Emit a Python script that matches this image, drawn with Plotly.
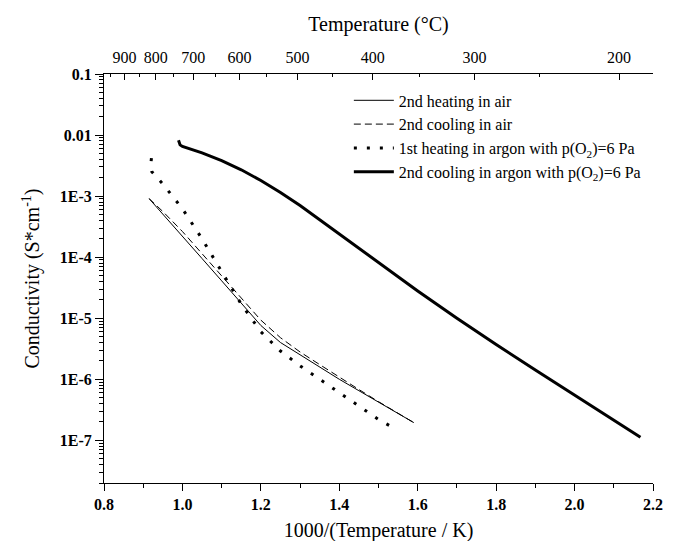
import numpy as np
import plotly.graph_objects as go

# ---------------- data ----------------
# 1000/T (K^-1) and conductivity (S/cm)
x_heat_air = [0.915, 0.95, 1.0, 1.05, 1.1, 1.15, 1.2, 1.25, 1.3, 1.35, 1.4, 1.45, 1.5, 1.55, 1.59]
y_heat_air = [9.1e-4, 5.1e-4, 2.24e-4, 9.5e-5, 4.1e-5, 1.74e-5, 7.6e-6, 4.0e-6, 2.5e-6, 1.58e-6,
              1.0e-6, 6.5e-7, 4.2e-7, 2.8e-7, 1.95e-7]

x_cool_air = [0.915, 0.95, 1.0, 1.05, 1.1, 1.15, 1.2, 1.25, 1.3, 1.35, 1.4, 1.45, 1.5, 1.55, 1.59]
y_cool_air = [9.1e-4, 5.6e-4, 2.63e-4, 1.15e-4, 5.0e-5, 2.14e-5, 9.3e-6, 4.8e-6, 2.8e-6, 1.74e-6,
              1.07e-6, 6.8e-7, 4.3e-7, 2.75e-7, 1.95e-7]

x_heat_ar = [0.921, 0.919, 0.922, 0.935, 0.95, 1.0, 1.05, 1.1, 1.15, 1.2, 1.25, 1.3, 1.35, 1.4,
             1.45, 1.5, 1.546]
y_heat_ar = [4.2e-3, 3.2e-3, 2.5e-3, 2.04e-3, 1.58e-3, 6.2e-4, 2.0e-4, 5.8e-5, 1.7e-5, 6.0e-6,
             2.9e-6, 1.66e-6, 1.0e-6, 6.0e-7, 3.6e-7, 2.2e-7, 1.5e-7]

x_cool_ar = [0.990, 0.994, 1.0, 1.05, 1.1, 1.15, 1.2, 1.25, 1.3, 1.35, 1.4, 1.5, 1.6, 1.7,
             1.8, 1.9, 2.0, 2.1, 2.168]
y_cool_ar = [8.2e-3, 6.9e-3, 6.5e-3, 5.1e-3, 3.8e-3, 2.7e-3, 1.8e-3, 1.15e-3, 7.0e-4, 4.1e-4,
             2.35e-4, 8.0e-5, 2.8e-5, 1.0e-5, 3.7e-6, 1.42e-6, 5.5e-7, 2.15e-7, 1.12e-7]

names = ["2nd heating in air", "2nd cooling in air",
         "1st heating in argon with p(O<sub>2</sub>)=6 Pa",
         "2nd cooling in argon with p(O<sub>2</sub>)=6 Pa"]

y_tick_vals = [1e-1, 1e-2, 1e-3, 1e-4, 1e-5, 1e-6, 1e-7]
y_tick_text = ["0.1", "0.01", "1E-3", "1E-4", "1E-5", "1E-6", "1E-7"]

temp_major_c = [900, 800, 700, 600, 500, 400, 300, 200]
temp_minor_c = [950, 850, 750, 650, 550, 450, 350, 250]

# ---------------- figure ----------------
FONT = "Liberation Serif"
fig = go.Figure()

fig.add_trace(go.Scatter(x=x_heat_air, y=y_heat_air, mode="lines", name=names[0],
                         line=dict(color="black", width=1)))
fig.add_trace(go.Scatter(x=x_cool_air, y=y_cool_air, mode="lines", name=names[1],
                         line=dict(color="black", width=1, dash="7px,4px")))
fig.add_trace(go.Scatter(x=x_heat_ar, y=y_heat_ar, mode="lines", name=names[2],
                         line=dict(color="black", width=3, dash="3px,10px")))
fig.add_trace(go.Scatter(x=x_cool_ar, y=y_cool_ar, mode="lines", name=names[3],
                         line=dict(color="black", width=3)))
# invisible trace to activate top axis
fig.add_trace(go.Scatter(x=[0.8, 2.2], y=[1e-7, 1e-7], xaxis="x2", mode="lines",
                         line=dict(width=0), showlegend=False, hoverinfo="skip"))

y_minor = [k * 10.0 ** e for e in range(-8, -1) for k in range(2, 10)]
y_minor = [v for v in y_minor if 2e-8 <= v < 0.1]

fig.update_layout(
    width=675, height=541,
    margin=dict(l=96, r=30, t=66, b=61),
    plot_bgcolor="white", paper_bgcolor="white",
    font=dict(family=FONT, color="black", size=16),
    showlegend=True,
    legend=dict(x=0.446, y=0.977, xanchor="left", yanchor="top",
                bgcolor="rgba(0,0,0,0)", borderwidth=0,
                font=dict(family=FONT, size=16), itemwidth=40,
                tracegroupgap=0),
    xaxis=dict(range=[0.8, 2.2], dtick=0.2, tick0=0.8, tickformat=".1f",
               showline=True, linecolor="black", linewidth=1, mirror=False,
               ticks="outside", ticklen=7, tickcolor="black",
               minor=dict(dtick=0.1, ticks="outside", ticklen=4, tickcolor="black"),
               showgrid=False, zeroline=False,
               tickfont=dict(family=FONT, size=16, weight="bold"),
               title=dict(text="1000/(Temperature / K)", font=dict(family=FONT, size=20),
                          standoff=10)),
    xaxis2=dict(range=[0.8, 2.2], overlaying="x", side="top", anchor="y",
                tickmode="array",
                tickvals=[1000.0 / (t + 273.15) for t in temp_major_c],
                ticktext=[str(t) for t in temp_major_c],
                showline=True, linecolor="black", linewidth=1,
                ticks="inside", ticklen=6, tickcolor="black",
                ticklabelstandoff=4,
                minor=dict(tickmode="array",
                           tickvals=[1000.0 / (t + 273.15) for t in temp_minor_c],
                           ticks="inside", ticklen=3, tickcolor="black"),
                showgrid=False, zeroline=False,
                tickfont=dict(family=FONT, size=16),
                title=dict(text="Temperature (°C)", font=dict(family=FONT, size=20),
                           standoff=11)),
    yaxis=dict(type="log", range=[np.log10(2e-8), -1],
               tickmode="array", tickvals=y_tick_vals, ticktext=y_tick_text,
               showline=True, linecolor="black", linewidth=1,
               ticks="outside", ticklen=8, tickcolor="black",
               minor=dict(tickmode="array", tickvals=y_minor, ticks="outside",
                          ticklen=4, tickcolor="black"),
               showgrid=False, zeroline=False,
               tickfont=dict(family=FONT, size=16, weight="bold"),
               title=dict(text="Conductivity (S*cm<sup>-1</sup>)",
                          font=dict(family=FONT, size=20), standoff=14)),
)

fig.write_html("out.html")
